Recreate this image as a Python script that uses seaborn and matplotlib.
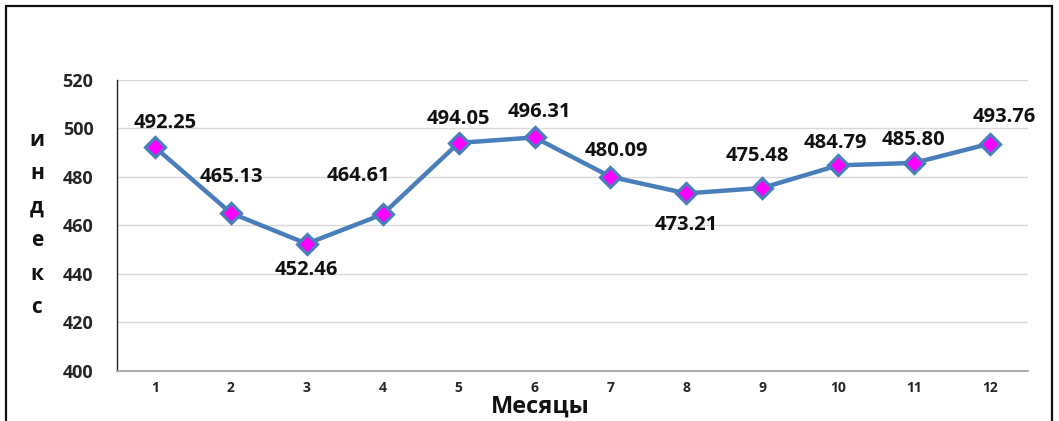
import matplotlib
matplotlib.use("Agg")
import matplotlib.pyplot as plt
from matplotlib.patches import Rectangle
import seaborn as sns
import pandas as pd

months = [1, 2, 3, 4, 5, 6, 7, 8, 9, 10, 11, 12]
index_values = [492.25, 465.13, 452.46, 464.61, 494.05, 496.31,
                480.09, 473.21, 475.48, 484.79, 485.80, 493.76]
y_ticks = [400, 420, 440, 460, 480, 500, 520]
y_title = "индекс"
x_title = "Месяцы"

# label placement relative to each marker, in pixels (dx, dy)
label_offsets = [(10, 24), (0, 36), (0, -26), (-24, 38), (0, 24), (5, 25),
                 (6, 26), (0, -32), (-5, 32), (-3, 22), (-1, 23), (14, 27)]

sns.set_theme(style="white")
plt.rcParams["font.family"] = ["Open Sans", "DejaVu Sans"]

df = pd.DataFrame({"month": months, "value": index_values})

fig = plt.figure(figsize=(10.59, 4.21), dpi=100)
ax = fig.add_axes([0.1105, 0.119, 0.8602, 0.691])

sns.lineplot(data=df, x="month", y="value", ax=ax, color="#4A7EBB",
             linewidth=3.2, marker="D", markersize=10,
             markerfacecolor="#FF00FF", markeredgecolor="#4A7EBB",
             markeredgewidth=2.3, zorder=3)

ax.set_xlim(0.5, 12.5)
ax.set_ylim(400, 520)
ax.set_yticks(y_ticks)
ax.set_xticks(months)
ax.set_xticklabels([str(m) for m in months], fontsize=10, fontweight="bold")
ax.set_yticklabels([str(t) for t in y_ticks], fontsize=13, fontweight="bold")
ax.tick_params(axis="y", length=0, pad=17)
ax.tick_params(axis="x", length=0, pad=7)
ax.yaxis.grid(True, color="#D9D9D9", linewidth=1)
ax.xaxis.grid(False)
for side in ["top", "right"]:
    ax.spines[side].set_visible(False)
ax.spines["left"].set_color("#222222")
ax.spines["left"].set_linewidth(1)
ax.spines["bottom"].set_color("#A6A6A6")
ax.spines["bottom"].set_linewidth(1.3)
ax.set_xlabel("")
ax.set_ylabel("")

# value labels next to each point
for m, v, (dx, dy) in zip(months, index_values, label_offsets):
    ax.annotate(f"{v:.2f}", (m, v), xytext=(dx, dy), textcoords="offset pixels",
                ha="center", va="center", fontsize=14.5, fontweight="bold",
                color="#111111", zorder=4)

# stacked vertical axis title
for i, ch in enumerate(y_title):
    fig.text(37 / 1059, 1 - (140 + i * 33.5) / 421, ch, ha="center", va="center",
             fontsize=15, fontweight="bold", color="#111111")

fig.text(540 / 1059, 1 - 407 / 421, x_title, ha="center", va="center",
         fontsize=17, fontweight="bold", color="#111111")

# outer frame
fig.patches.append(Rectangle((6 / 1059, -0.05), 1046 / 1059, 1 - 6 / 421 + 0.05,
                             transform=fig.transFigure, fill=False,
                             edgecolor="#111111", linewidth=1.6))

fig.savefig("out.png", dpi=100)
